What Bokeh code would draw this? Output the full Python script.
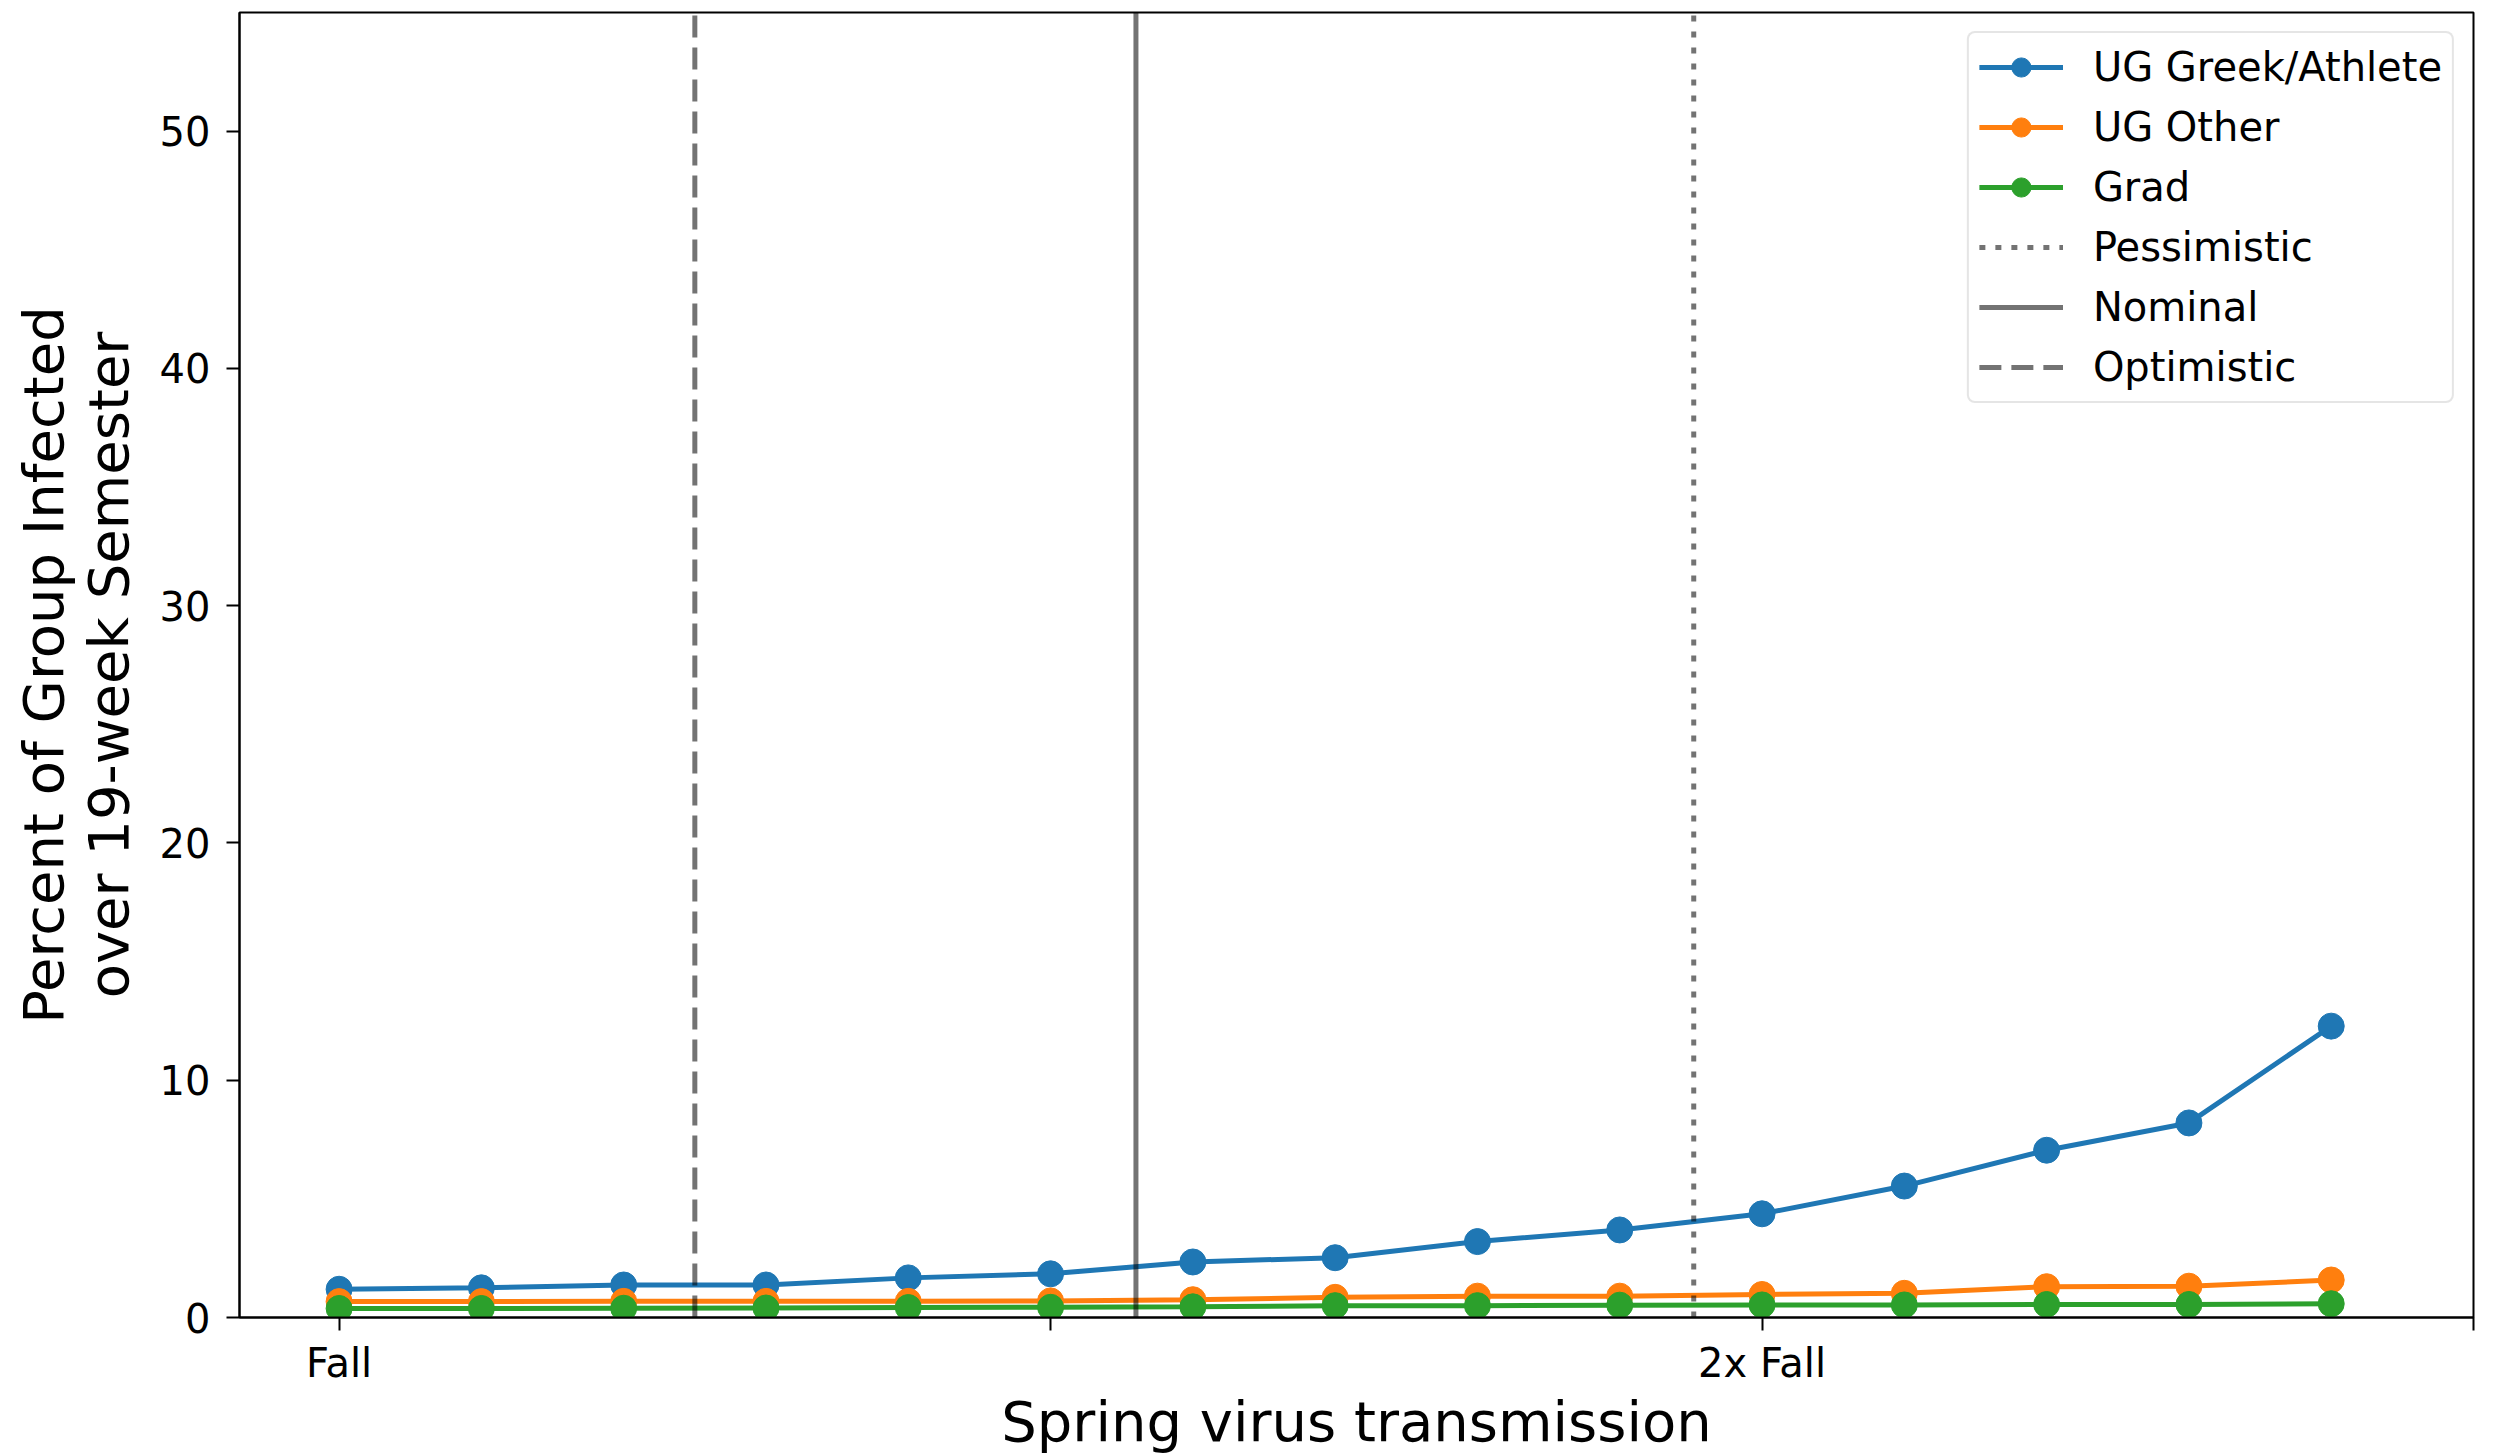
from bokeh.plotting import figure
from bokeh.models import FixedTicker, Range1d, Legend, LegendItem
from bokeh.embed import file_html
from bokeh.resources import INLINE

# ---- data ----
transmission = [1.0, 1.1, 1.2, 1.3, 1.4, 1.5, 1.6, 1.7, 1.8, 1.9, 2.0, 2.1, 2.2, 2.3, 2.4]
ug_greek = [1.19, 1.25, 1.37, 1.37, 1.67, 1.84, 2.34, 2.52, 3.20, 3.69, 4.37, 5.54, 7.05, 8.20, 12.28]
ug_other = [0.67, 0.67, 0.68, 0.68, 0.68, 0.70, 0.75, 0.85, 0.90, 0.90, 0.97, 1.02, 1.30, 1.32, 1.58]
grad = [0.38, 0.38, 0.39, 0.40, 0.42, 0.43, 0.45, 0.50, 0.50, 0.52, 0.53, 0.53, 0.55, 0.55, 0.58]

series_names = ["UG Greek/Athlete", "UG Other", "Grad"]
series_colors = ["#1f77b4", "#ff7f0e", "#2ca02c"]

scenario_names = ["Pessimistic", "Nominal", "Optimistic"]
scenario_x = [1.952, 1.56, 1.25]
scenario_dash = ["6 10", "solid", "22 10"]

x_ticks = [1.0, 1.5, 2.0, 2.5]
x_tick_labels = ["Fall", "", "2x Fall", ""]
y_ticks = [0, 10, 20, 30, 40, 50]
x_min, x_max = 0.93, 2.5
y_min, y_max = 0, 55

x_title = "Spring virus transmission"
y_title = "Percent of Group Infected\nover 19-week Semester"

FONT = "DejaVu Sans"

p = figure(width=2493, height=1456, output_backend="svg", toolbar_location=None,
           x_range=Range1d(x_min, x_max), y_range=Range1d(y_min, y_max),
           min_border_left=239, min_border_right=20, min_border_top=12, min_border_bottom=139)
p.background_fill_color = "white"
p.border_fill_color = "white"
p.outline_line_color = "black"
p.outline_line_width = 2
p.xgrid.visible = False
p.ygrid.visible = False

items = []
for name, vals, col in zip(series_names, [ug_greek, ug_other, grad], series_colors):
    ln = p.line(transmission, vals, line_color=col, line_width=5)
    sc = p.scatter(transmission, vals, size=26, fill_color=col, line_color=col, marker="circle")
    items.append(LegendItem(label=name, renderers=[ln, sc]))

for name, xv, dash in zip(scenario_names, scenario_x, scenario_dash):
    seg = p.segment(x0=[xv], y0=[y_min], x1=[xv], y1=[y_max], line_color="black",
                    line_alpha=0.55, line_width=5, line_dash=dash)
    items.append(LegendItem(label=name, renderers=[seg]))

legend = Legend(items=items, location="top_right")
legend.label_text_font = FONT
legend.label_text_font_size = "40px"
legend.label_text_color = "black"
legend.glyph_width = 84
legend.glyph_height = 48
legend.label_height = 48
legend.spacing = 12
legend.padding = 10
legend.margin = 19
legend.label_standoff = 30
legend.border_line_color = "#cccccc"
legend.border_line_width = 2
legend.background_fill_alpha = 0.8
try:
    if "border_radius" in Legend.properties():
        legend.border_radius = 8
except Exception:
    pass
p.add_layout(legend)

# axes
p.xaxis.ticker = FixedTicker(ticks=x_ticks)
p.xaxis.major_label_overrides = {t: l for t, l in zip(x_ticks, x_tick_labels)}
p.yaxis.ticker = FixedTicker(ticks=y_ticks)
for ax in [p.xaxis, p.yaxis]:
    ax.minor_tick_line_color = None
    ax.major_tick_in = 0
    ax.major_tick_out = 13
    ax.major_tick_line_width = 2
    ax.major_tick_line_color = "black"
    ax.axis_line_color = "black"
    ax.axis_line_width = 2
    ax.major_label_text_font = FONT
    ax.major_label_text_font_size = "40px"
    ax.major_label_text_color = "black"
    ax.axis_label_text_font = FONT
    ax.axis_label_text_font_size = "56px"
    ax.axis_label_text_font_style = "normal"
    ax.axis_label_text_color = "black"

p.xaxis.axis_label = x_title
p.xaxis.major_label_standoff = 9
p.xaxis.axis_label_standoff = 0
p.yaxis.axis_label = y_title
p.yaxis.major_label_standoff = 16
p.yaxis.axis_label_standoff = 16
p.yaxis.axis_label_text_line_height = 1.0

open("out.html", "w").write(file_html(p, INLINE))
